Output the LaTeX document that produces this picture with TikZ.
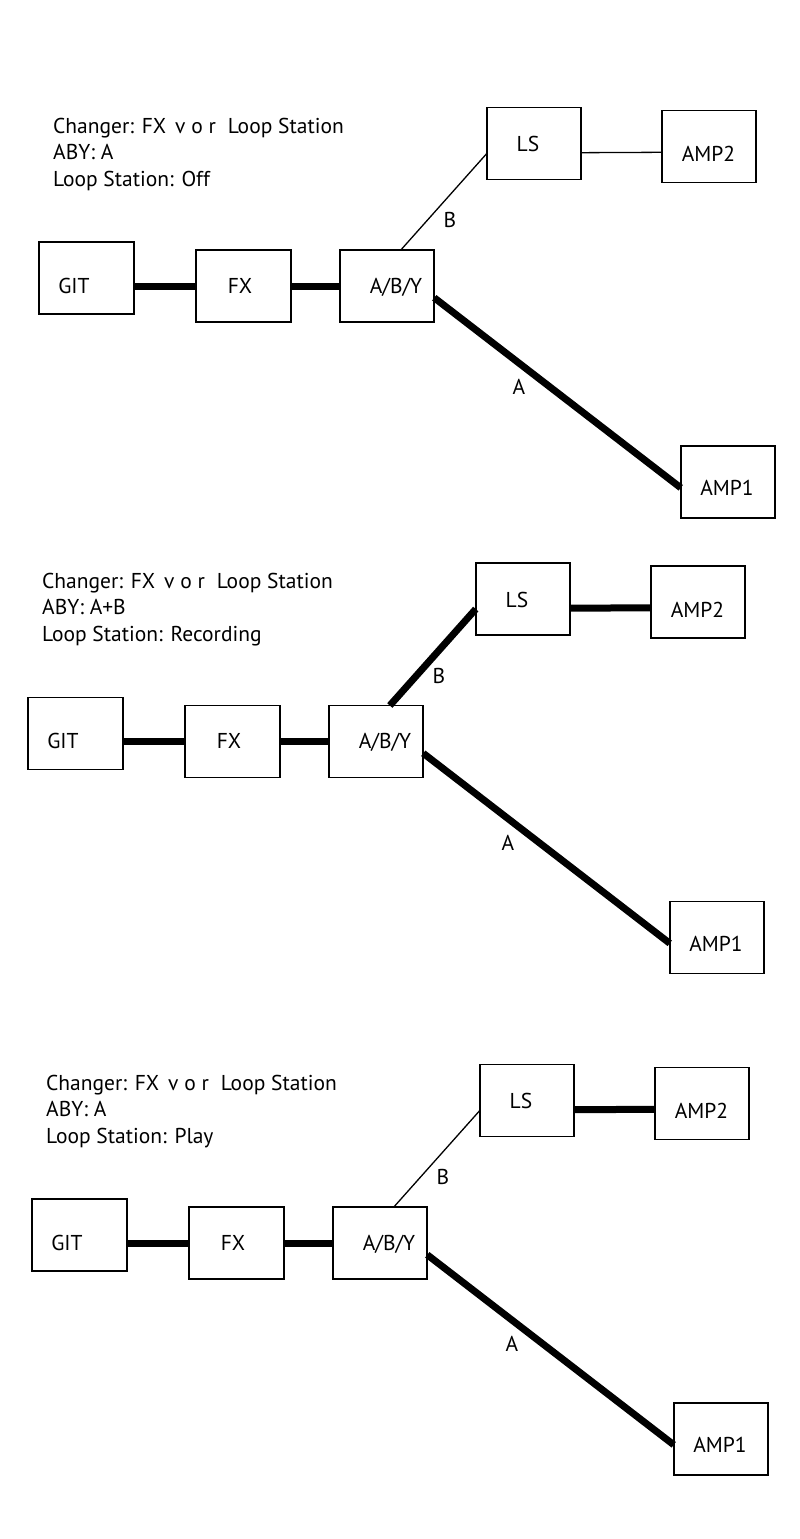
\documentclass[tikz,border=0pt]{standalone}
\usepackage{fontspec}
\setmainfont{PT Sans}
\begin{document}
\begin{tikzpicture}[x=1pt,y=-1pt,
  box/.style={draw, line width=1.8pt, minimum width=94.5pt, minimum height=72pt, inner sep=0pt, outer sep=0pt},
  txt/.style={font=\fontsize{21.5}{26}\selectfont, inner sep=0pt, anchor=base},
  head/.style={font=\fontsize{21.5}{26}\selectfont, inner sep=0pt, anchor=base west},
  wire/.style={line width=1.3pt},
  heavy/.style={line width=7pt}]
\useasboundingbox (0,0) rectangle (800,1539);
\fill[white] (0,0) rectangle (800,1539);
\newcommand\rigpanel[5]{%
  \node[head] (hd#1) at (53,133) {Changer: FX\hspace{9pt}v o r\hspace{12pt}Loop Station};
  \node[head] (ab#1) at (53,159) {ABY: #2};
  \node[head] (lp#1) at (53,186) {Loop Station: #3};
  \node[box] (git#1) at (86.5,278) {};
  \node[box] (fx#1) at (243.5,286) {};
  \node[box] (aby#1) at (387,286) {};
  \node[box] (ls#1) at (534,143.5) {};
  \node[box] (amptwo#1) at (709,146.5) {};
  \node[box] (ampone#1) at (728,482) {};
  \node[txt] (tgit#1) at (74,293) {GIT};
  \node[txt] (tfx#1) at (240,293) {FX};
  \node[txt] (taby#1) at (396,293) {A/B/Y};
  \node[txt] (tls#1) at (528,151.5) {LS};
  \node[txt] (tamptwo#1) at (708.5,161.5) {AMP2};
  \node[txt] (tampone#1) at (727,495.5) {AMP1};
  \node[txt] (tb#1) at (450,227.5) {B};
  \node[txt] (ta#1) at (519,394.5) {A};
  \draw[heavy] (git#1.east |- fx#1.west) -- (fx#1.west);
  \draw[heavy] (fx#1.east) -- (aby#1.west);
  \draw[#4] (aby#1.69.3) -- (ls#1.192.6);
  \draw[heavy] (aby#1.-14.3) -- (ampone#1.187.3);
  \draw[#5] (ls#1.-11.4) -- (amptwo#1.187.9);
}
\begin{scope}
  \rigpanel{a}{A}{Off}{wire}{wire}
\end{scope}
\begin{scope}[shift={(-11,455.5)}]
  \rigpanel{b}{A+B}{Recording}{heavy}{heavy}
\end{scope}
\begin{scope}[shift={(-7,957)}]
  \rigpanel{c}{A}{Play}{wire}{heavy}
\end{scope}
\end{tikzpicture}
\end{document}
